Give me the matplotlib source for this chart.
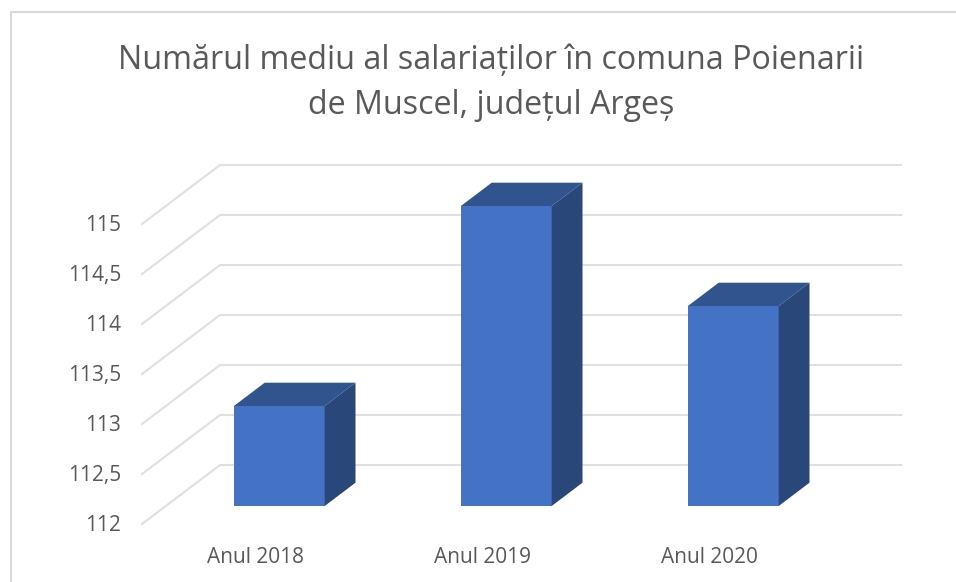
import matplotlib
matplotlib.use('Agg')
import matplotlib.pyplot as plt
from matplotlib.lines import Line2D
from matplotlib.patches import Polygon
from matplotlib.transforms import ScaledTranslation

years = ['Anul 2018', 'Anul 2019', 'Anul 2020']
values = [113, 115, 114]
tickValues = [112, 112.5, 113, 113.5, 114, 114.5, 115]
tickLabels = ['112', '112,5', '113', '113,5', '114', '114,5', '115']
title = 'Numărul mediu al salariaților în comuna Poienarii\nde Muscel, județul Argeș'

plt.rcParams['font.family'] = ['Open Sans', 'DejaVu Sans']

# depth of the 3d box, in axis units (categories, value)
depthX = 78 / 227
depthY = 59 / 100
barStart = 0.305
barEnd = 0.70
barWidth = 0.40
baseValue = tickValues[0]


def back(x, y, frac):
    return x + frac * depthX, y + frac * depthY


W, H = 956, 582
fig = plt.figure(figsize=(W / 100, H / 100), dpi=100, facecolor='white')
ax = fig.add_axes([142 / W, (H - 524) / H, 681 / W, 300 / H])
ax.set_xlim(-0.5, 2.5)
ax.set_ylim(112, 115)
ax.patch.set_visible(False)
for s in ax.spines.values():
    s.set_visible(False)

# gridlines: diagonal on the side wall, then flat along the back wall
for t in tickValues:
    bx, by = back(-0.5, t, 1)
    ax.plot([-0.5, bx, 2.5 + depthX], [t, by, by], color='#e0e0e0', lw=1.5,
            clip_on=False, zorder=1, solid_joinstyle='miter')

for i, v in enumerate(values):
    x0, y0 = back(i - barWidth / 2, baseValue, barStart)
    x1 = x0 + barWidth
    top = back(i, v, barStart)[1]
    dx = (barEnd - barStart) * depthX
    dy = (barEnd - barStart) * depthY
    ax.bar(x0, top - y0, width=barWidth, bottom=y0, align='edge', color='#4472c4',
           clip_on=False, zorder=3)
    ax.add_patch(Polygon([(x0, top), (x1, top), (x1 + dx, top + dy), (x0 + dx, top + dy)],
                         closed=True, facecolor='#31548f', edgecolor='none', clip_on=False, zorder=3))
    ax.add_patch(Polygon([(x1, y0), (x1 + dx, y0 + dy), (x1 + dx, top + dy), (x1, top)],
                         closed=True, facecolor='#294779', edgecolor='none', clip_on=False, zorder=3))

ax.set_xticks(range(len(years)), years)
ax.set_yticks(tickValues, tickLabels)
ax.tick_params(axis='both', length=0, labelcolor='#595959')
ax.tick_params(axis='y', labelsize=15, pad=15)
ax.tick_params(axis='x', labelsize=15, pad=16.7)

# the labels sit a little above their gridline ends
up = ScaledTranslation(0, 1 / 100, fig.dpi_scale_trans)
for lab in ax.get_yticklabels():
    lab.set_transform(lab.get_transform() + up)

fig.text(491 / W, 1 - 83 / H, title, ha='center', va='center', fontsize=23.2,
         color='#595959', linespacing=1.45)

# chart frame, only top and left edges are in the crop
fig.add_artist(Line2D([11 / W, 11 / W, 1], [0, 1 - 12 / H, 1 - 12 / H], color='#d9d9d9', lw=1.5))

fig.savefig('out.png', dpi=100)
